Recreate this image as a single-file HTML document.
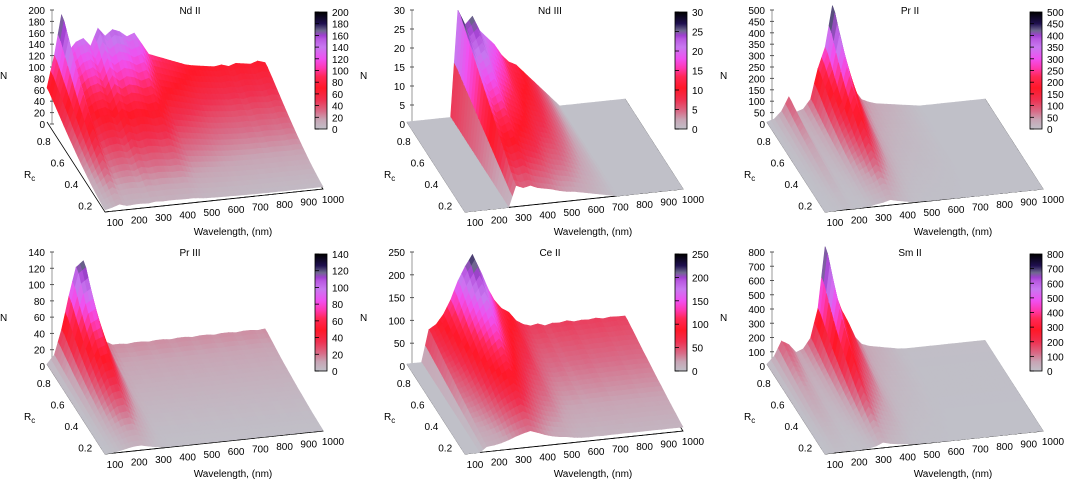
<!DOCTYPE html>
<html><head><meta charset="utf-8">
<style>
html,body{margin:0;padding:0;background:#fff;}
svg{display:block;font-family:"Liberation Sans",sans-serif;}
text{font-size:10px;fill:#000;}
</style></head>
<body>
<svg id="chart" width="1066" height="482" viewBox="0 0 1066 482" xmlns="http://www.w3.org/2000/svg">
<defs>
<linearGradient id="cbgrad" x1="0" y1="1" x2="0" y2="0">
<stop offset="0" stop-color="#c0c0c8"/><stop offset="0.08" stop-color="#c8a4b4"/>
<stop offset="0.15" stop-color="#d86c88"/><stop offset="0.25" stop-color="#f03050"/>
<stop offset="0.35" stop-color="#ff1828"/><stop offset="0.45" stop-color="#ff2858"/>
<stop offset="0.52" stop-color="#ff38b0"/><stop offset="0.6" stop-color="#f050f0"/>
<stop offset="0.7" stop-color="#c878f0"/><stop offset="0.77" stop-color="#b858e0"/>
<stop offset="0.8" stop-color="#a040d0"/><stop offset="0.84" stop-color="#706890"/>
<stop offset="0.9" stop-color="#201050"/><stop offset="1" stop-color="#000000"/>
</linearGradient>
</defs>
</svg>
<script>
// ---- data ----
const wavelengths = [100,130,160,190,220,250,280,310,340,370,400,430,460,490,520,550,580,610,640,670,700,730,760,790,820,850,880,910,940,970,1000];
const rcGrid = [0.95,0.85,0.75,0.65,0.55,0.45,0.35,0.25,0.15];
const panelNames = ["Nd II","Nd III","Pr II","Pr III","Ce II","Sm II"];
const zMax = [200,30,500,140,250,800];
const zStep = [20,5,50,20,50,100];
const wlTicks = [100,200,300,400,500,600,700,800,900,1000];
const rcTicks = [0.8,0.6,0.4,0.2];
const profNdII  = [60,115,185,120,135,140,125,155,140,150,145,135,140,120,100,95,90,85,80,75,72,70,68,66,68,64,68,66,64,68,64];
const profNdIII = [0,0,0,0,0,0,0,28,24,26,22,20,18,15,13,12,10,8,6,4,2,0,0,0,0,0,0,0,0,0,0];
const profPrII  = [0,10,40,100,30,40,80,210,300,480,330,200,100,55,40,30,25,20,15,10,5,0,0,0,0,0,0,0,0,0,0];
const profPrIII = [0,10,40,80,115,122,80,45,20,15,15,14,15,15,14,15,15,14,15,15,14,15,15,14,15,15,14,15,15,14,15];
const profCeII  = [0,0,0,70,80,100,130,170,200,225,190,150,120,100,90,70,60,55,58,52,56,55,58,54,56,55,57,54,56,55,55];
const profSmII  = [0,50,150,120,60,80,150,350,780,500,350,250,130,70,50,40,30,20,10,5,5,5,5,5,5,5,5,5,5,5,5];
const rfacNdII  = [1,0.85,0.7,0.55,0.42,0.3,0.2,0.12,0.06];
const rfacNdIII = [1,0.9,0.8,0.7,0.6,0.5,0.4,0.3,0.2];
const rfacPr    = [1,0.8,0.62,0.48,0.36,0.26,0.17,0.1,0.05];
const rfacCeII  = [1,0.88,0.76,0.65,0.54,0.44,0.34,0.25,0.16];
const profiles = [profNdII,profNdIII,profPrII,profPrIII,profCeII,profSmII];
const rfacs = [rfacNdII,rfacNdIII,rfacPr,rfacPr,rfacCeII,rfacPr];

// ---- palette ----
const stops=[[0,"#c0c0c8"],[0.08,"#c8a4b4"],[0.15,"#d86c88"],[0.25,"#f03050"],[0.35,"#ff1828"],[0.45,"#ff2858"],[0.52,"#ff38b0"],[0.6,"#f050f0"],[0.7,"#c878f0"],[0.77,"#b858e0"],[0.8,"#a040d0"],[0.84,"#706890"],[0.9,"#201050"],[1,"#000000"]];
function hx(c){return [parseInt(c.slice(1,3),16),parseInt(c.slice(3,5),16),parseInt(c.slice(5,7),16)];}
function pal(t){t=Math.max(0,Math.min(1,t));for(let i=1;i<stops.length;i++){if(t<=stops[i][0]){const a=stops[i-1],b=stops[i];const f=(t-a[0])/(b[0]-a[0]);const A=hx(a[1]),B=hx(b[1]);return "rgb("+A.map((v,k)=>Math.round(v+(B[k]-v)*f)).join(",")+")";}}return "#000";}
function interp(xs,ys,x){if(x<=xs[0])return ys[0];for(let i=1;i<xs.length;i++){if(x<=xs[i]){const f=(x-xs[i-1])/(xs[i]-xs[i-1]);return ys[i-1]+(ys[i]-ys[i-1])*f;}}return ys[ys.length-1];}
function rinterp(r,fac){
 if(r>=rcGrid[0])return fac[0];for(let i=1;i<rcGrid.length;i++){if(r>=rcGrid[i]){const f=(rcGrid[i-1]-r)/(rcGrid[i-1]-rcGrid[i]);return fac[i-1]+(fac[i]-fac[i-1])*f;}}return fac[fac.length-1];}

const NS="http://www.w3.org/2000/svg";
const svg=document.getElementById("chart");
function el(tag,attrs,parent){const e=document.createElementNS(NS,tag);for(const k in attrs)e.setAttribute(k,attrs[k]);(parent||svg).appendChild(e);return e;}

const BL=[47,122],DW=[218,-23],DR=[58,90],ZH=114;
const RCMAX=0.97,RCMIN=0.13;
function proj(ox,oy,w,r,n,zm){const u=(w-100)/900,f=(RCMAX-r)/(RCMAX-RCMIN);return [ox+BL[0]+u*DW[0]+f*DR[0],oy+BL[1]+u*DW[1]+f*DR[1]-n/zm*ZH];}

for(let p=0;p<6;p++){
 const ox=(p%3)*360, oy=Math.floor(p/3)*242;
 const zm=zMax[p], prof=profiles[p], fac=rfacs[p];
 const cbx=(p%3===2)?310:315;
 const g=el("g",{});
 
 
 const t=el("text",{x:ox+190,y:oy+14,"text-anchor":"middle"},g);t.textContent=panelNames[p];
 
 const za=el("g",{},g);
 el("line",{x1:ox+52,y1:oy+10,x2:ox+52,y2:oy+124,stroke:"#999","stroke-width":1},za);
 for(let v=0;v<=zm+1e-9;v+=zStep[p]){const y=oy+124-v/zm*ZH;
  el("line",{x1:ox+50,y1:y,x2:ox+54,y2:y,stroke:"#555","stroke-width":1},za);
  const tt=el("text",{x:ox+45,y:y+4,"text-anchor":"end"},za);tt.textContent=String(v);
  }
 const nl=el("text",{x:ox+0,y:oy+79},g);nl.textContent="N";
 
 const eg=el("g",{},g);
 const c0=proj(ox,oy,100,RCMAX,0,zm),c1=proj(ox,oy,1000,RCMAX,0,zm),c2=proj(ox,oy,1000,RCMIN,0,zm),c3=proj(ox,oy,100,RCMIN,0,zm);
 el("polyline",{points:[c1,c2,c3,c0].map(a=>a.join(",")).join(" "),fill:"none",stroke:"#000","stroke-width":0.8},eg);
 const sg=el("g",{},g);
 const nF=24,nU=60;
 const H=(w,r)=>interp(wavelengths,prof,w)*rinterp(r,fac);
 for(let i=0;i<nF;i++){
  const r0=RCMAX-(RCMAX-RCMIN)*i/nF, r1=RCMAX-(RCMAX-RCMIN)*(i+1)/nF;
  for(let j=nU-1;j>=0;j--){
   const w0=100+900*j/nU,w1=100+900*(j+1)/nU;
   const h00=H(w0,r0),h10=H(w1,r0),h11=H(w1,r1),h01=H(w0,r1);
   const pts=[proj(ox,oy,w0,r0,h00,zm),proj(ox,oy,w1,r0,h10,zm),proj(ox,oy,w1,r1,h11,zm),proj(ox,oy,w0,r1,h01,zm)];
   const c=pal((h00+h10+h11+h01)/4/zm);
   const q=el("polygon",{points:pts.map(a=>a[0].toFixed(1)+","+a[1].toFixed(1)).join(" "),fill:c,stroke:c,"stroke-width":0.6},sg);
   
  }
 }
 el("line",{x1:c3[0],y1:c3[1],x2:c2[0],y2:c2[1],stroke:"#000","stroke-width":0.8,"stroke-dasharray":"4,3"},eg);
 for(const w of wlTicks){const b=proj(ox,oy,w,RCMIN,0,zm);
  const tt=el("text",{x:b[0]+10,y:b[1]+14,"text-anchor":"middle"},g);tt.textContent=String(w);
  }
 const xl=el("text",{x:ox+233,y:oy+235,"text-anchor":"middle"},g);xl.textContent="Wavelength, (nm)";
 
 for(const r of rcTicks){const b=proj(ox,oy,100,r,0,zm);
  const tt=el("text",{x:b[0]-8,y:b[1]+5,"text-anchor":"end"},g);tt.textContent=r.toFixed(1);
  }
 const rl=el("text",{x:ox+24,y:oy+178},g);rl.innerHTML='R<tspan font-size="8" dy="3">c</tspan>';
 
 const cb=el("g",{},g);
 el("rect",{x:ox+cbx,y:oy+12,width:12,height:117,fill:"url(#cbgrad)",stroke:"#000","stroke-width":0.8},cb);
 for(let v=0;v<=zm+1e-9;v+=zStep[p]){const y=oy+129-v/zm*117;
  el("line",{x1:ox+cbx,y1:y,x2:ox+cbx+4,y2:y,stroke:"#000","stroke-width":0.8},cb);
  const tt=el("text",{x:ox+cbx+17,y:y+4},cb);tt.textContent=String(v);
  }
}
</script>
</body></html>
